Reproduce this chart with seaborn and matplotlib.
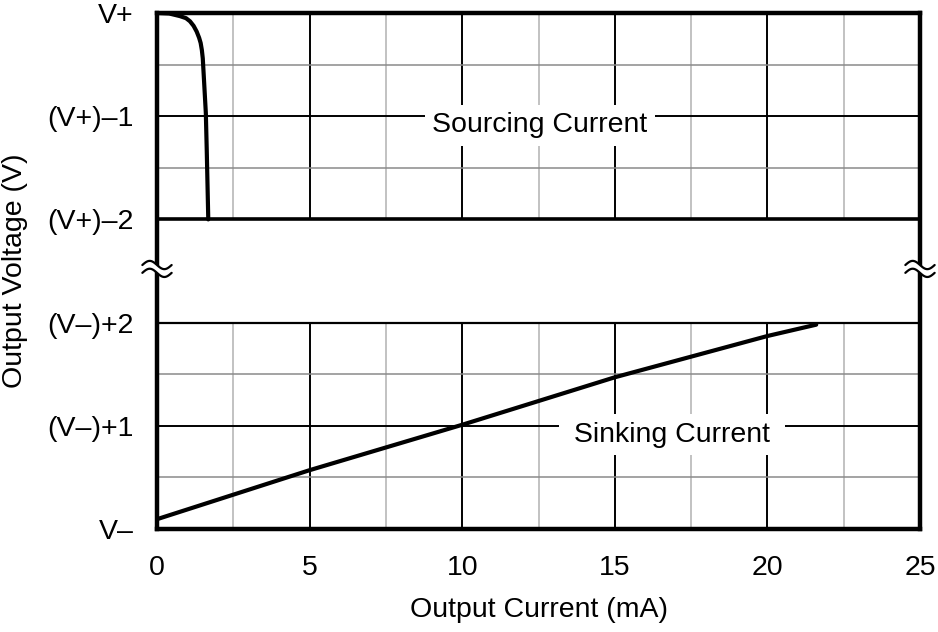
import numpy as np
import pandas as pd
import matplotlib
matplotlib.use("Agg")
import matplotlib.pyplot as plt
import seaborn as sns

# ---- data ----
# y scale: 0 = V-, 1 = (V-)+1, 2 = (V-)+2, [gap], 3 = (V+)-2, 4 = (V+)-1, 5 = V+
source_current = [0.0, 0.4, 0.75, 0.95, 1.08, 1.2, 1.3, 1.38, 1.43, 1.47, 1.5, 1.54, 1.6, 1.63, 1.68]
source_voltage = [5.0, 4.995, 4.97, 4.95, 4.92, 4.875, 4.82, 4.76, 4.71, 4.64, 4.56, 4.35, 4.03, 3.67, 3.0]
sink_current = [0.0, 5.0, 10.0, 15.0, 20.0, 21.6]
sink_voltage = [0.095, 0.57, 1.01, 1.47, 1.87, 1.98]

x_ticks = [0, 5, 10, 15, 20, 25]
x_tick_labels = ["0", "5", "10", "15", "20", "25"]
y_ticks = [0, 1, 2, 3, 4, 5]
y_tick_labels = ["V\u2013", "(V\u2013)+1", "(V\u2013)+2", "(V+)\u20132", "(V+)\u20131", "V+"]
segments = [(0.0, 2.0), (3.0, 5.0)]

sns.set_style("white")
plt.rcParams["font.family"] = ["Liberation Sans", "DejaVu Sans"]
plt.rcParams["text.color"] = "black"
plt.rcParams["axes.labelcolor"] = "black"
FS = 20.5

fig = plt.figure(figsize=(9.38, 6.32), dpi=100)
ax = fig.add_axes([157 / 938, 1 - 529 / 632, (920 - 157) / 938, (529 - 13) / 632])
ax.set_xlim(0, 25)
ax.set_ylim(0, 5)

# grid lines, drawn only inside the two plotted segments
for lo, hi in segments:
    for xv in np.arange(2.5, 25, 2.5):
        major = abs(xv % 5) < 1e-9
        ax.vlines(xv, lo, hi, colors="black" if major else "#bdbdbd",
                  linewidth=1.4 if major else 1.3, zorder=1)
    for yv in np.arange(lo + 0.5, hi, 0.5):
        major = abs(yv % 1) < 1e-9
        ax.hlines(yv, 0, 25, colors="black" if major else "#8a8a8a",
                  linewidth=1.4 if major else 1.1, zorder=1)
ax.hlines(2, 0, 25, colors="black", linewidth=1.6, zorder=1)
ax.hlines(3, 0, 25, colors="black", linewidth=2.6, zorder=1)

df_src = pd.DataFrame({"I": source_current, "V": source_voltage})
df_snk = pd.DataFrame({"I": sink_current, "V": sink_voltage})
sns.lineplot(data=df_src, x="I", y="V", sort=False, color="black", linewidth=3.0, ax=ax, zorder=4)
sns.lineplot(data=df_snk, x="I", y="V", sort=False, color="black", linewidth=3.0, ax=ax, zorder=4)

ax.text(12.55, 3.91, "Sourcing Current", fontsize=FS, ha="center", va="center", zorder=3,
        color="black", bbox=dict(boxstyle="square,pad=0.25", fc="white", ec="none"))
ax.text(16.86, 0.915, " Sinking Current ", fontsize=FS, ha="center", va="center", zorder=3,
        color="black", bbox=dict(boxstyle="square,pad=0.25", fc="white", ec="none"))

for s in ax.spines.values():
    s.set_visible(True)
    s.set_linewidth(3.2)
    s.set_color("black")

ax.set_xticks(x_ticks)
ax.set_xticklabels(x_tick_labels)
ax.set_yticks(y_ticks)
ax.set_yticklabels(y_tick_labels)
ax.tick_params(axis="both", length=0, labelsize=FS, colors="black")
ax.tick_params(axis="x", pad=19)
ax.tick_params(axis="y", pad=17)
ax.set_xlabel("Output Current (mA)", fontsize=FS, labelpad=11, color="black")
ax.set_ylabel("Output Voltage (V)", fontsize=FS, labelpad=14, color="black")

# axis break marks
t = np.linspace(0, 1, 60)
for xc in (0, 25):
    bx = xc - 0.48 + 0.96 * t
    wave = 0.04 * np.sin(2 * np.pi * t)
    yc = 2.52
    upper = yc + 0.038 + wave
    lower = yc - 0.038 + wave
    ax.fill_between(bx, lower, upper, color="white", zorder=6, clip_on=False, linewidth=0)
    ax.plot(bx, upper, color="black", linewidth=1.6, zorder=7, clip_on=False)
    ax.plot(bx, lower, color="black", linewidth=1.6, zorder=7, clip_on=False)

fig.savefig("out.png", dpi=100)
